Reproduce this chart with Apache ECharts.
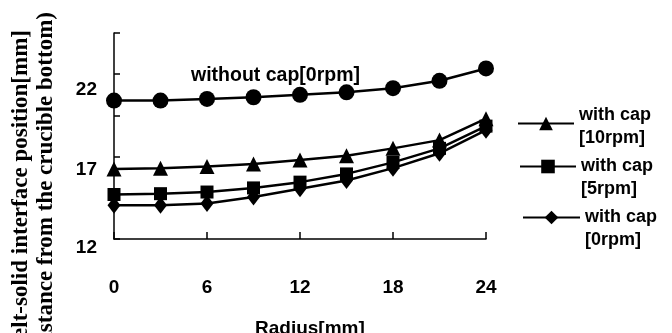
<!DOCTYPE html>
<html>
<head>
<meta charset="utf-8">
<script src="https://cdn.jsdelivr.net/npm/echarts@6/dist/echarts.min.js"></script>
<style>html,body{margin:0;padding:0;background:#fff;}#c{width:672px;height:333px;}</style>
</head>
<body>
<div id="c"></div>
<script>
var radius = [0, 3, 6, 9, 12, 15, 18, 21, 24];
var withoutCap0 = [20.4, 20.4, 20.5, 20.6, 20.75, 20.9, 21.15, 21.6, 22.35];
var withCap10 = [16.25, 16.3, 16.4, 16.55, 16.8, 17.05, 17.5, 18.0, 19.3];
var withCap5 = [14.7, 14.75, 14.85, 15.1, 15.45, 15.95, 16.65, 17.5, 18.85];
var withCap0 = [14.05, 14.05, 14.15, 14.55, 15.05, 15.55, 16.3, 17.2, 18.6];
var yTickLabels = [12, 17, 22];
var xTickLabels = [0, 6, 12, 18, 24];

function pairs(vals) { return radius.map(function (r, i) { return [r, vals[i]]; }); }

var SANS = '"Liberation Sans", Arial, sans-serif';
var SERIF = '"Liberation Serif", "Times New Roman", serif';

function mkSeries(name, vals, symbol, size) {
  return {
    name: name, type: 'line', data: pairs(vals),
    symbol: symbol, symbolSize: size,
    lineStyle: { color: '#000', width: 2.5 },
    itemStyle: { color: '#000', borderWidth: 0 },
    emphasis: { disabled: true }, animation: false
  };
}

var legendRich = {
  e: { fontSize: 4, lineHeight: 7 },
  e2: { fontSize: 4, lineHeight: 23 },
  t: { fontFamily: SANS, fontWeight: 'bold', fontSize: 18, color: '#000', lineHeight: 23 }
};

function mkLegend(name, left, top, width, lines) {
  return {
    data: [name], left: left, top: top, orient: 'vertical',
    itemWidth: width, itemHeight: 17, itemGap: 0,
    lineStyle: { width: 2 },
    formatter: function () { return lines; },
    textStyle: { fontFamily: SANS, fontWeight: 'bold', fontSize: 18, color: '#000', lineHeight: 23, rich: legendRich },
    selectedMode: false, padding: 0
  };
}

var chart = echarts.init(document.getElementById('c'));
chart.setOption({
  backgroundColor: '#fff',
  animation: false,
  grid: { left: 114, right: 186, top: 33, bottom: 94 },
  xAxis: {
    type: 'value', min: 0, max: 24, interval: 6,
    axisLine: { lineStyle: { color: '#000', width: 1.5 } },
    axisTick: { inside: true, length: 7, lineStyle: { color: '#000', width: 1.5 } },
    splitLine: { show: false },
    axisLabel: {
      margin: 39, color: '#000', fontFamily: SANS, fontWeight: 'bold', fontSize: 19,
      formatter: function (v) { return xTickLabels.indexOf(v) >= 0 ? String(v) : ''; }
    }
  },
  yAxis: {
    type: 'value', min: 12, max: 24.5, interval: 2.5,
    axisLine: { show: true, lineStyle: { color: '#000', width: 1.5 } },
    axisTick: { show: true, inside: true, length: 6, lineStyle: { color: '#000', width: 1.5 } },
    splitLine: { show: false },
    axisLabel: {
      margin: 17, color: '#000', fontFamily: SANS, fontWeight: 'bold', fontSize: 19,
      verticalAlign: 'top',
      formatter: function (v) {
        if (v === 22) return '{a|22}';
        if (v === 17) return '{b|17}';
        if (v === 12) return '{c|12}';
        return '';
      },
      rich: {
        a: { fontFamily: SANS, fontWeight: 'bold', fontSize: 19, color: '#000', lineHeight: 31 },
        b: { fontFamily: SANS, fontWeight: 'bold', fontSize: 19, color: '#000', lineHeight: 26 },
        c: { fontFamily: SANS, fontWeight: 'bold', fontSize: 19, color: '#000', lineHeight: 17 }
      }
    }
  },
  legend: [
    mkLegend('with cap [10rpm]', 517, 97, 56, '{e| }\n{t|with cap}\n{t|[10rpm]}'),
    mkLegend('with cap [5rpm]', 519, 132, 56, '{e2| }\n{t|with cap}\n{t|[5rpm]}'),
    mkLegend('with cap [0rpm]', 522, 183, 57, '{e2| }\n{t|with cap}\n{t|[0rpm]}')
  ],
  series: [
    mkSeries('without cap[0rpm]', withoutCap0, 'circle', 16),
    mkSeries('with cap [10rpm]', withCap10, 'triangle', 15),
    mkSeries('with cap [5rpm]', withCap5, 'rect', 13),
    mkSeries('with cap [0rpm]', withCap0, 'diamond', [13, 17])
  ],
  graphic: [
    { type: 'text', left: 191, top: 66, style: { text: 'without cap[0rpm]', fill: '#000', font: 'bold 19.5px ' + SANS } },
    { type: 'text', left: 255, top: 319, style: { text: 'Radius[mm]', fill: '#000', font: 'bold 19px ' + SANS } },
    { type: 'text', x: 21, y: 30, rotation: Math.PI / 2,
      style: { text: 'Melt-solid interface position[mm]', fill: '#000', font: 'bold 23px ' + SERIF, align: 'right', verticalAlign: 'middle' } },
    { type: 'text', x: 46, y: 12, rotation: Math.PI / 2,
      style: { text: '(Distance from the crucible bottom)', fill: '#000', font: 'bold 23px ' + SERIF, align: 'right', verticalAlign: 'middle' } }
  ]
});
</script>
</body>
</html>
